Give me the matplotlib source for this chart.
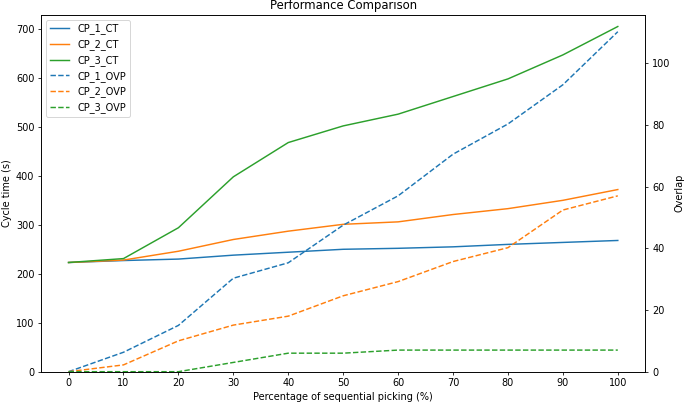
import matplotlib
matplotlib.use("Agg")
import matplotlib.pyplot as plt

# Data
pct = [0, 10, 20, 30, 40, 50, 60, 70, 80, 90, 100]

cp1_ct = [223, 227, 230, 238, 244, 250, 252, 255, 260, 264, 268]
cp2_ct = [223, 228, 246, 270, 287, 301, 306, 321, 333, 350, 372]
cp3_ct = [223, 231, 294, 398, 468, 502, 526, 562, 598, 647, 705]

cp1_ovp = [0, 6.3, 15, 30.3, 35.3, 47.5, 57, 70.5, 80.3, 93, 110.2]
cp2_ovp = [0, 2.2, 10, 15.1, 18, 24.6, 29.2, 35.7, 40.2, 52.4, 57]
cp3_ovp = [0, 0, 0, 3, 6, 6, 7, 7, 7, 7, 7]

# Create a figure and axes
fig, ax1 = plt.subplots(figsize=(685 / 70, 403 / 70), dpi=70)
fig.subplots_adjust(left=0.060, right=0.942, top=0.9635, bottom=0.0777)
ax2 = ax1.twinx()

# Cycle time on the left axis
l1, = ax1.plot(pct, cp1_ct, color="C0", label="CP_1_CT")
l2, = ax1.plot(pct, cp2_ct, color="C1", label="CP_2_CT")
l3, = ax1.plot(pct, cp3_ct, color="C2", label="CP_3_CT")

# Overlap on the right axis
l4, = ax2.plot(pct, cp1_ovp, color="C0", linestyle="--", label="CP_1_OVP")
l5, = ax2.plot(pct, cp2_ovp, color="C1", linestyle="--", label="CP_2_OVP")
l6, = ax2.plot(pct, cp3_ovp, color="C2", linestyle="--", label="CP_3_OVP")

ax1.set_ylim(bottom=0)
ax2.set_ylim(bottom=0)
ax1.set_xticks(pct)

ax1.set_title("Performance Comparison")
ax1.set_xlabel("Percentage of sequential picking (%)")
ax1.set_ylabel("Cycle time (s)")
ax2.set_ylabel("Overlap")

lines = [l1, l2, l3, l4, l5, l6]
ax1.legend(lines, [l.get_label() for l in lines], loc="upper left")

fig.savefig("out.png", dpi=70)
